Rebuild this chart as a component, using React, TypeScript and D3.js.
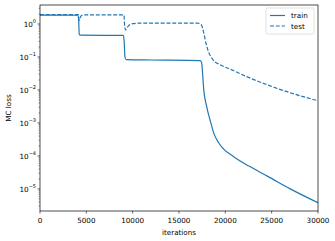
import * as d3 from "d3";

// train / test MC loss
const trainIters = [0, 4100, 4180, 4230, 4350, 9000, 9080, 9170, 9300, 12000, 17300, 17450, 17550, 17650, 18000, 18400, 18740, 19280, 19820, 20900, 22500, 24580, 27000, 30000];
const trainLoss = [1.85, 1.84, 1.2, 0.5, 0.46, 0.45, 0.3, 0.1, 0.083, 0.081, 0.078, 0.065, 0.03, 0.012, 3e-3, 1.1e-3, 5e-4, 2.5e-4, 1.6e-4, 9.5e-5, 5e-5, 2.4e-5, 1e-5, 3.8e-6];

const testIters = [0, 4150, 4200, 4260, 4400, 4700, 9050, 9150, 9250, 9500, 10000, 11000, 17000, 17400, 17700, 17900, 18200, 18630, 19500, 20580, 22500, 24580, 27080, 30000];
const testLoss = [1.92, 1.92, 1.4, 1.3, 1.7, 1.9, 1.9, 0.8, 0.66, 0.85, 1.02, 1.07, 1.06, 0.95, 0.5, 0.27, 0.14, 0.085, 0.057, 0.042, 0.024, 0.0141, 0.0081, 0.0047];

const xTicks = [0, 5000, 10000, 15000, 20000, 25000, 30000];
const yExps = [0, -1, -2, -3, -4, -5];

const W = 335;
const H = 241;
const m = { left: 40, right: 318, top: 5, bottom: 211 };
const blue = "#1f77b4";
const font = "DejaVu Sans";

function App() {
  const x = d3.scaleLinear().domain([0, 30000]).range([m.left, m.right]);
  const y = d3
    .scaleLog()
    .domain([Math.pow(10, -5.67), Math.pow(10, 0.576)])
    .range([m.bottom, m.top]);

  const line = d3
    .line<[number, number]>()
    .x((d) => x(d[0]))
    .y((d) => y(d[1]))
    .curve(d3.curveMonotoneX);

  const train = trainIters.map((it, i) => [it, trainLoss[i]] as [number, number]);
  const test = testIters.map((it, i) => [it, testLoss[i]] as [number, number]);

  // minor log ticks
  const minor: number[] = [];
  for (let e = -6; e <= 0; e++) {
    for (let k = 2; k <= 9; k++) {
      const v = k * Math.pow(10, e);
      if (v >= y.domain()[0] && v <= y.domain()[1]) minor.push(v);
    }
  }

  return (
    <svg
      width={W}
      height={H}
      style={{ position: "absolute", left: 0, top: 0, background: "#fff" }}
      fontFamily={font}
    >
      <defs>
        <clipPath id="plot">
          <rect x={m.left} y={m.top} width={m.right - m.left} height={m.bottom - m.top} />
        </clipPath>
      </defs>

      <g clipPath="url(#plot)">
        <path d={line(train) ?? ""} fill="none" stroke={blue} strokeWidth={1.2} />
        <path d={line(test) ?? ""} fill="none" stroke={blue} strokeWidth={1.2} strokeDasharray="4,1.8" />
      </g>

      {/* frame */}
      <rect
        x={m.left}
        y={m.top}
        width={m.right - m.left}
        height={m.bottom - m.top}
        fill="none"
        stroke="#000"
        strokeWidth={0.7}
      />

      {/* x axis */}
      {xTicks.map((t) => (
        <g key={t}>
          <line x1={x(t)} x2={x(t)} y1={m.bottom} y2={m.bottom + 2.5} stroke="#000" strokeWidth={0.6} />
          <text x={x(t)} y={m.bottom + 11.5} fontSize={7.2} textAnchor="middle">
            {t}
          </text>
        </g>
      ))}
      <text x={(m.left + m.right) / 2} y={235} fontSize={7.2} textAnchor="middle">
        iterations
      </text>

      {/* y axis */}
      {minor.map((v, i) => (
        <line key={i} x1={m.left - 1.4} x2={m.left} y1={y(v)} y2={y(v)} stroke="#000" strokeWidth={0.4} />
      ))}
      {yExps.map((e) => (
        <g key={e}>
          <line x1={m.left - 2.5} x2={m.left} y1={y(Math.pow(10, e))} y2={y(Math.pow(10, e))} stroke="#000" strokeWidth={0.6} />
          <text x={m.left - 4} y={y(Math.pow(10, e)) + 3} fontSize={7.2} textAnchor="end">
            10
            <tspan fontSize={5} dy={-3.5}>
              {e === 0 ? "0" : "\u2212" + -e}
            </tspan>
          </text>
        </g>
      ))}
      <text
        transform={`translate(11,${(m.top + m.bottom) / 2}) rotate(-90)`}
        fontSize={7.2}
        textAnchor="middle"
      >
        MC loss
      </text>

      {/* legend */}
      <g transform="translate(266,8)">
        <rect x={0} y={0} width={48} height={26} rx={1.5} fill="#fff" fillOpacity={0.8} stroke="#ccc" strokeWidth={0.6} />
        <line x1={4} x2={19} y1={7.5} y2={7.5} stroke={blue} strokeWidth={1.2} />
        <text x={25} y={10} fontSize={7.2}>
          train
        </text>
        <line x1={4} x2={19} y1={18} y2={18} stroke={blue} strokeWidth={1.2} strokeDasharray="4,1.8" />
        <text x={25} y={20.5} fontSize={7.2}>
          test
        </text>
      </g>
    </svg>
  );
}

export default App;
